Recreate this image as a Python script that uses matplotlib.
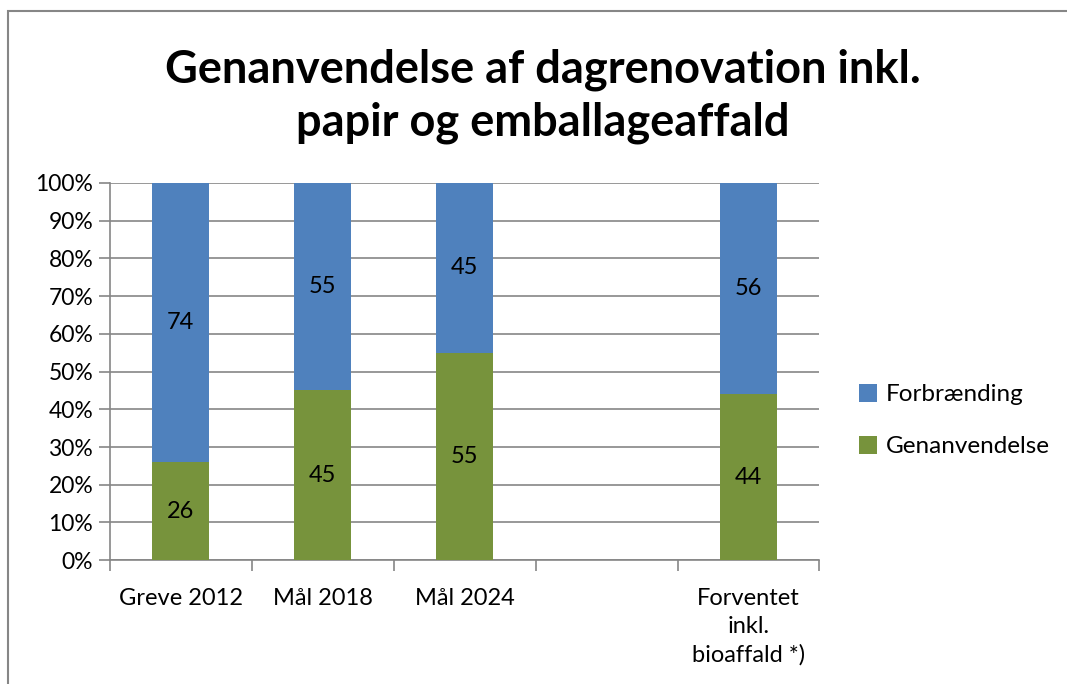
import matplotlib.pyplot as plt
import numpy as np
from matplotlib.ticker import PercentFormatter, FixedLocator
from matplotlib.patches import Rectangle

categories = ['Greve 2012', 'Mål 2018', 'Mål 2024', '', 'Forventet\ninkl.\nbioaffald *)']
genanvendelse = [26, 45, 55, np.nan, 44]
forbraending = [74, 55, 45, np.nan, 56]

blue = '#4F81BD'
green = '#77933C'
grid_col = '#868686'

plt.rcParams['font.family'] = ['Lato', 'DejaVu Sans']

fig = plt.figure(figsize=(10.67, 6.84), dpi=100)
ax = fig.add_axes([0.103, 0.181, 0.665, 0.5515])

x = np.arange(len(categories))
gen = np.array(genanvendelse, dtype=float)
forb = np.array(forbraending, dtype=float)
b1 = ax.bar(x, gen, width=0.4, color=green, label='Genanvendelse', zorder=3)
b2 = ax.bar(x, forb, width=0.4, bottom=gen, color=blue, label='Forbrænding', zorder=3)

for i in range(len(x)):
    if np.isnan(gen[i]):
        continue
    ax.text(x[i], gen[i] / 2, f'{gen[i]:.0f}', ha='center', va='center', fontsize=17, zorder=4)
    ax.text(x[i], gen[i] + forb[i] / 2, f'{forb[i]:.0f}', ha='center', va='center', fontsize=17, zorder=4)

ax.set_xlim(-0.5, len(categories) - 0.5)
ax.set_ylim(0, 100)
ax.set_yticks(np.arange(0, 101, 10))
ax.yaxis.set_major_formatter(PercentFormatter(100, decimals=0))
ax.yaxis.grid(True, color=grid_col, linewidth=1.2, zorder=0)
ax.set_xticks(x)
ax.set_xticklabels(categories, fontsize=17, linespacing=1.4)
ax.xaxis.set_minor_locator(FixedLocator(np.arange(-0.5, len(categories), 1)))
ax.tick_params(axis='x', which='major', length=0, pad=20)
ax.tick_params(axis='x', which='minor', length=8, width=1.2, color=grid_col)
ax.tick_params(axis='y', length=8, width=1.2, color=grid_col, labelsize=16.5, pad=4)
for s in ['top', 'right']:
    ax.spines[s].set_visible(False)
for s in ['left', 'bottom']:
    ax.spines[s].set_color(grid_col)
    ax.spines[s].set_linewidth(1.2)

ax.legend(handles=[b2, b1], loc='center left', bbox_to_anchor=(1.056, 0.37), frameon=False,
          fontsize=17.5, handlelength=0.75, handleheight=0.75, handletextpad=0.35, labelspacing=1.25,
          borderaxespad=0, borderpad=0)

fig.text(0.509, 1 - 96 / 684, 'Genanvendelse af dagrenovation inkl.\npapir og emballageaffald',
         ha='center', va='center', fontsize=32.5, fontweight='bold', linespacing=1.3)

fig.add_artist(Rectangle((8 / 1067, -0.1), 1.1, 1.1 - 11 / 684, transform=fig.transFigure,
                         fill=False, edgecolor=grid_col, linewidth=1.5, clip_on=False))

fig.savefig('out.png', dpi=100)
